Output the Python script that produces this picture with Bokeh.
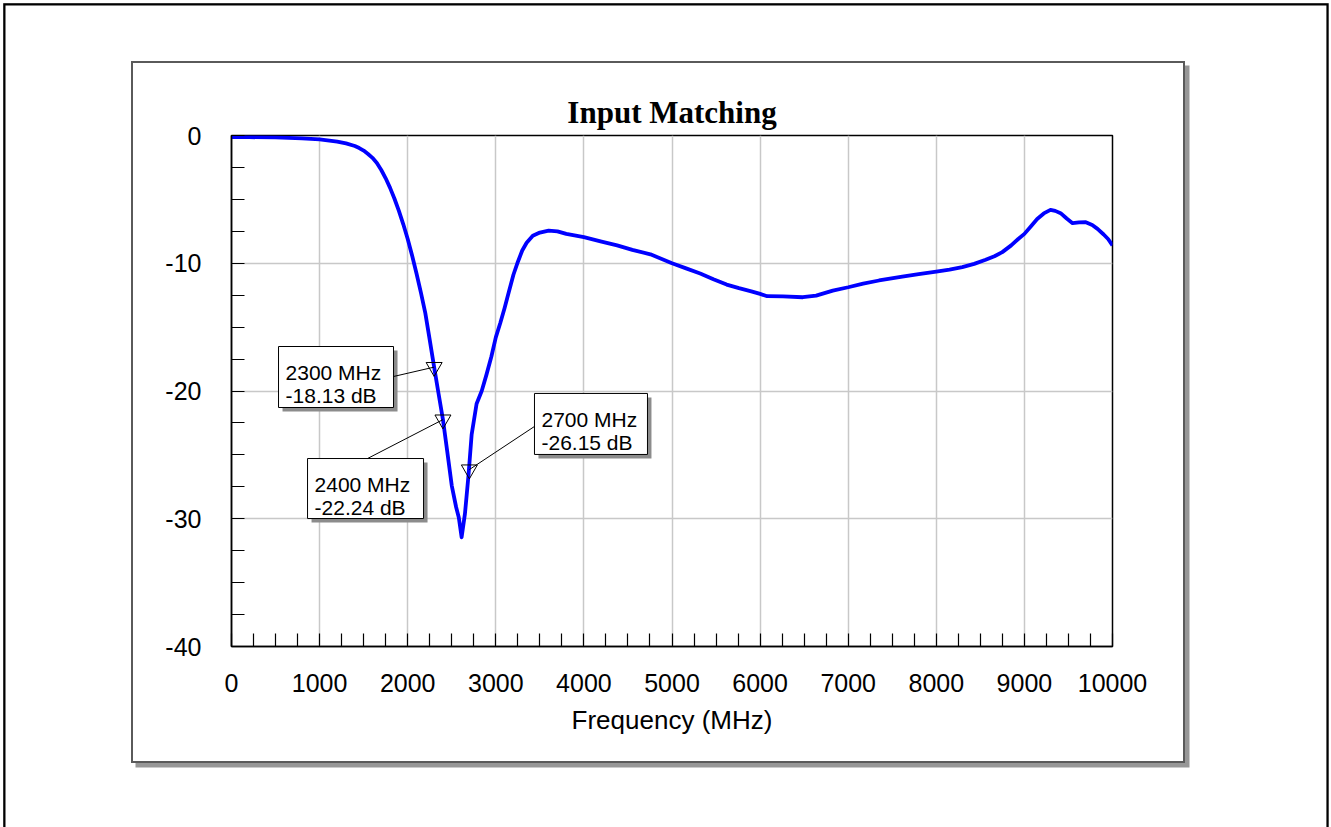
import numpy as np
from bokeh.plotting import figure
from bokeh.models import Range1d, FixedTicker, Label, Title
from bokeh.embed import file_html
from bokeh.resources import INLINE

# ---------------- data ----------------
freq_mhz = [0, 200, 500, 800, 1000, 1200, 1300, 1400, 1450, 1500, 1550, 1600,
            1650, 1700, 1750, 1800, 1850, 1900, 1950, 2000, 2050, 2100, 2150,
            2200, 2250, 2300, 2350, 2400, 2450, 2500, 2550, 2580, 2612, 2650,
            2690, 2726, 2782, 2840, 2895, 2950, 3000, 3050, 3100, 3150, 3200,
            3250, 3300, 3350, 3420, 3500, 3600, 3700, 3800, 4000, 4200, 4377,
            4550, 4755, 5000, 5160, 5320, 5470, 5620, 5760, 5900, 6000, 6080,
            6260, 6485, 6636, 6825, 7000, 7170, 7350, 7614, 7800, 8000, 8150,
            8295, 8430, 8560, 8660, 8749, 8850, 8930, 9000, 9075, 9145, 9220,
            9296, 9350, 9411, 9480, 9547, 9620, 9697, 9770, 9830, 9900, 9950,
            10000]
s11_db = [-0.13, -0.13, -0.15, -0.22, -0.30, -0.48, -0.62, -0.82, -0.98, -1.18,
          -1.45, -1.75, -2.15, -2.70, -3.35, -4.10, -4.95, -5.90, -6.95, -8.10,
          -9.40, -10.80, -12.30, -13.90, -16.00, -18.13, -20.20, -22.24, -24.80,
          -27.40, -29.10, -29.90, -31.45, -29.60, -26.60, -23.40, -21.00,
          -20.00, -18.70, -17.30, -15.80, -14.70, -13.50, -12.20, -10.90,
          -9.90, -9.00, -8.40, -7.85, -7.60, -7.44, -7.50, -7.70, -7.96, -8.30,
          -8.60, -8.95, -9.30, -10.00, -10.40, -10.80, -11.25, -11.67, -11.95,
          -12.20, -12.40, -12.58, -12.60, -12.66, -12.53, -12.14, -11.88,
          -11.60, -11.35, -11.04, -10.85, -10.65, -10.50, -10.30, -10.05,
          -9.73, -9.45, -9.13, -8.60, -8.10, -7.70, -7.10, -6.53, -6.10, -5.82,
          -5.90, -6.08, -6.50, -6.86, -6.80, -6.79, -7.00, -7.31, -7.75, -8.10,
          -8.60]

marker_freq = [2300, 2400, 2700]
marker_db = [-18.13, -22.24, -26.15]
marker_line1 = ["2300 MHz", "2400 MHz", "2700 MHz"]
marker_line2 = ["-18.13 dB", "-22.24 dB", "-26.15 dB"]

x_ticks = [0, 1000, 2000, 3000, 4000, 5000, 6000, 7000, 8000, 9000, 10000]
y_ticks = [-40, -30, -20, -10, 0]
y_tick_labels = ["-40", "-30", "-20", "-10", "0"]
title_text = "Input Matching"
x_label = "Frequency (MHz)"

# ---------------- layout / style ----------------
# the figure canvas is the inner white panel; its page position is set by margin
PANEL_X, PANEL_Y = 133, 63
W, H = 1050, 698
ML, MT = 98, 72
FW, FH = 881, 511
MR, MB = W - ML - FW, H - MT - FH
XMIN, XMAX, YMIN, YMAX = 0, 10000, -40, 0
XPP = (XMAX - XMIN) / FW
YPP = (YMAX - YMIN) / FH

# callout boxes in px relative to marker point: (left, top, width, height)
CALLOUT_BOX = [(-155.6, -20.6, 115, 61), (-135.4, 38.9, 116, 60), (65.1, -76.1, 113, 61)]
CALLOUT_ANCHOR = [(-40.6, 9.4), (-75.4, 38.9), (65.1, -43.1)]
SANS = "Liberation Sans"
SERIF = "Liberation Serif"

# panel border, drop shadow, and the outer page frame (as CSS box-shadows)
panel_css = ", ".join([
    "0 0 0 2px #5a5a5a",
    "4.5px 4.5px 0 2px #979797",
    "7.95px 77.95px 0 135.45px #ffffff",
    "7.95px 77.95px 0 137.75px #000000",
])

p = figure(width=W, height=H, output_backend="svg", toolbar_location=None,
           x_range=Range1d(XMIN, XMAX), y_range=Range1d(YMIN, YMAX),
           min_border_left=ML, min_border_right=MR, min_border_top=MT,
           min_border_bottom=MB, margin=(PANEL_Y, 0, 0, PANEL_X),
           styles={"box-shadow": panel_css})
p.background_fill_color = "white"
p.border_fill_color = "white"
p.outline_line_color = "black"
p.outline_line_width = 1.5

p.title = Title(text=title_text, align="center", text_font=SERIF,
                text_font_style="bold", text_font_size="31px",
                text_color="black", standoff=12)

# axes
x_minor = list(np.arange(XMIN, XMAX + 1, 250))
y_minor = list(np.arange(YMIN, YMAX + 0.1, 2.5))
p.xaxis.ticker = FixedTicker(ticks=x_ticks, minor_ticks=x_minor)
p.yaxis.ticker = FixedTicker(ticks=y_ticks, minor_ticks=y_minor)
p.yaxis.major_label_overrides = dict(zip(y_ticks, y_tick_labels))
for ax in (p.xaxis[0], p.yaxis[0]):
    ax.axis_line_color = "black"
    ax.axis_line_width = 1.5
    ax.major_tick_in = 0
    ax.major_tick_out = 0
    ax.minor_tick_in = 13
    ax.minor_tick_out = 0
    ax.minor_tick_line_color = "black"
    ax.minor_tick_line_width = 1.2
    ax.major_label_text_font = SANS
    ax.major_label_text_font_size = "25px"
    ax.major_label_text_color = "black"
p.yaxis.major_label_standoff = 30
p.xaxis.major_label_standoff = 27
p.xaxis.axis_label = x_label
p.xaxis.axis_label_text_font = SANS
p.xaxis.axis_label_text_font_size = "26px"
p.xaxis.axis_label_text_font_style = "normal"
p.xaxis.axis_label_text_color = "black"
p.xaxis.axis_label_standoff = 10

for g in (p.xgrid[0], p.ygrid[0]):
    g.grid_line_color = "#c8c8c8"
    g.grid_line_width = 1.5
p.xgrid.ticker = FixedTicker(ticks=x_ticks)
p.ygrid.ticker = FixedTicker(ticks=y_ticks)

# callout boxes
sl, sr, st, sb = [], [], [], []
bl, br, bt, bb = [], [], [], []
ax1, ay1 = [], []
for i in range(len(marker_freq)):
    f, d = marker_freq[i], marker_db[i]
    l, t, w, h = CALLOUT_BOX[i]
    x0, x1 = f + l * XPP, f + (l + w) * XPP
    y0, y1 = d - t * YPP, d - (t + h) * YPP
    bl.append(x0); br.append(x1); bt.append(y0); bb.append(y1)
    sl.append(x0 + 4 * XPP); sr.append(x1 + 4 * XPP)
    st.append(y0 - 4 * YPP); sb.append(y1 - 4 * YPP)
    axp, ayp = CALLOUT_ANCHOR[i]
    ax1.append(f + axp * XPP); ay1.append(d - ayp * YPP)

p.quad(left=sl, right=sr, top=st, bottom=sb, fill_color="#8c8c8c", line_alpha=0)
p.quad(left=bl, right=br, top=bt, bottom=bb, fill_color="white",
       line_color="black", line_width=1)

# curve
p.line(freq_mhz, s11_db, line_color="#0000ff", line_width=3.8, line_join="round")

# leaders and markers
p.segment(x0=marker_freq, y0=marker_db, x1=ax1, y1=ay1, line_color="black", line_width=1)
p.scatter(marker_freq, marker_db, marker="inverted_triangle", size=16,
          fill_alpha=0, line_color="black", line_width=1)

for i in range(len(marker_freq)):
    l, t, w, h = CALLOUT_BOX[i]
    for j, txt in enumerate((marker_line1[i], marker_line2[i])):
        p.add_layout(Label(x=marker_freq[i], y=marker_db[i], x_offset=l + 7,
                           y_offset=-(t + 26 + 23 * j), text=txt,
                           text_font=SANS, text_font_size="21px",
                           text_baseline="alphabetic", text_align="left",
                           text_color="black"))

open("out.html", "w").write(file_html(p, INLINE))
